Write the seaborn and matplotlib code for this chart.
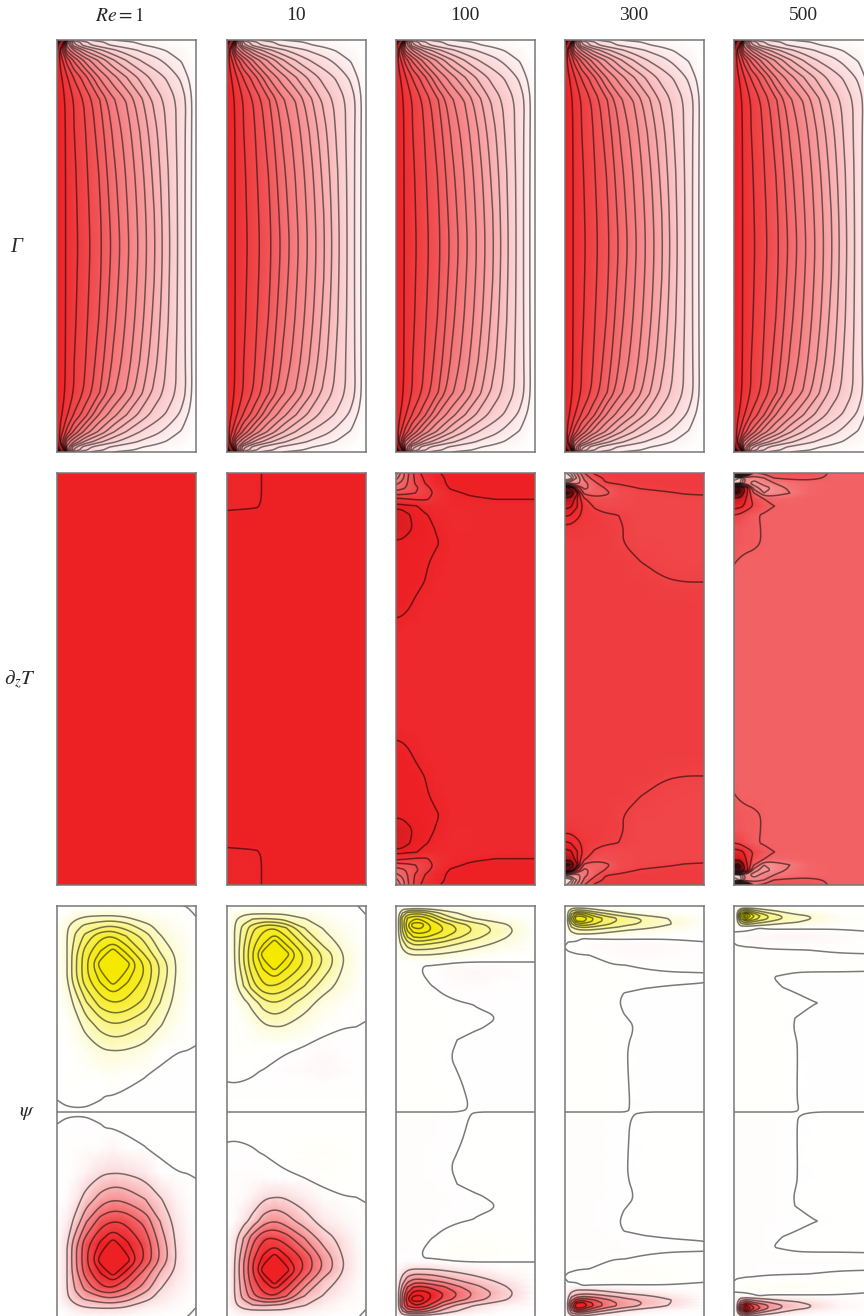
import numpy as np
import matplotlib
matplotlib.use('Agg')
import matplotlib.pyplot as plt
import seaborn as sns
from matplotlib.collections import LineCollection
from matplotlib.colors import LinearSegmentedColormap

# column headers and row labels
RE_LABELS = [r'$\mathit{Re}=1$', '10', '100', '300', '500']

# every field on a coarse grid, upper half only
# (x and d are in panel pixels from the left wall and the top wall)
GAMMA_X = [0, 4, 10, 17, 28, 42, 56, 70, 83, 97, 111, 125, 133, 139]
GAMMA_D = [0, 2, 5, 10, 20, 37, 60, 90, 132, 173, 206]
GAMMA = [
    [1.4, 1.35, .7, .208, .14, .093, .062, .047, .031, .023, .016, .008, .003, 0],
    [1.4, 1.2, .6, .312, .197, .14, .093, .07, .054, .039, .023, .011, .005, 0],
    [1.35, 1.0, .55, .335, .219, .152, .116, .085, .067, .047, .031, .016, .006, 0],
    [1.15, .85, .605, .495, .359, .264, .197, .15, .116, .085, .054, .028, .009, 0],
    [1, .903, .788, .673, .54, .424, .318, .242, .186, .147, .1, .054, .019, 0],
    [1, .947, .88, .806, .71, .558, .46, .371, .294, .225, .174, .108, .047, 0],
    [1, .968, .92, .872, .802, .696, .576, .491, .396, .299, .227, .156, .09, 0],
    [1, .969, .925, .876, .816, .724, .615, .527, .434, .335, .236, .152, .085, 0],
    [1, .969, .927, .886, .827, .748, .644, .552, .465, .359, .252, .152, .082, 0],
    [1, .969, .928, .891, .834, .762, .663, .567, .48, .377, .26, .152, .08, 0],
    [1, .969, .928, .894, .838, .766, .673, .576, .486, .383, .264, .152, .08, 0],
]
GAMMA_LEVELS = [.0625, .125, .1875, .25, .3125, .375, .4375, .5, .5625, .625, .6875, .75, .8125, .875, .9375]

DZT_X = [0, 6, 12, 20, 30, 40, 55, 75, 100, 120, 139]
DZT_D = [0, 5, 10, 15, 20, 26, 33, 42, 55, 70, 90, 110, 130, 160, 206]

DZT_RE1_X = [0, 139]
DZT_RE1_D = [0, 206]
DZT_RE1 = [[1, 1], [1, 1]]

DZT_RE10_X = [0, 30, 40, 139]
DZT_RE10_D = [0, 26, 33, 42, 206]
DZT_RE10 = [
    [.97, .97, 1, 1],
    [.97, .97, 1, 1],
    [.97, .98, 1, 1],
    [1, 1, 1, 1],
    [1, 1, 1, 1],
]
DZT_RE10_LEVELS = [.985]

DZT_RE100 = [
    [.45, .6, .72, .85, .95, .97, 1, 1, 1, 1, 1],
    [.55, .62, .73, .84, .92, .965, .99, 1, 1, 1, 1],
    [.63, .68, .74, .83, .905, .96, .99, 1, 1, 1, 1],
    [.7, .72, .75, .8, .87, .935, .985, 1, 1, 1, 1],
    [.78, .79, .8, .82, .86, .915, .965, .99, 1, 1, 1],
    [.92, .91, .9, .89, .89, .92, .955, .97, .981, .981, .981],
    [1, 1, .99, .985, .955, .95, .955, .96, .96, .96, .96],
    [1.03, 1.025, 1.015, 1, .985, .965, .955, .955, .96, .96, .96],
    [1.03, 1.025, 1.018, 1.005, .995, .978, .955, .955, .96, .96, .96],
    [1.005, 1.005, 1, 1, .995, .985, .965, .96, .96, .96, .96],
    [1, 1, 1, .995, .985, .97, .96, .96, .96, .96, .96],
    [1, 1, .995, .99, .978, .965, .96, .96, .96, .96, .96],
    [.995, .992, .987, .975, .965, .96, .96, .96, .96, .96, .96],
    [.965, .965, .96, .96, .96, .96, .96, .96, .96, .96, .96],
    [.96, .96, .96, .96, .96, .96, .96, .96, .96, .96, .96],
]
DZT_RE100_LEVELS = [.5, .58, .66, .74, .82, .9, .98, 1.01]

DZT_RE300 = [
    [.2, .35, .55, .75, .865, .875, .88, .88, .88, .88, .88],
    [.08, .2, .45, .68, .8, .86, .875, .88, .88, .88, .88],
    [.5, .5, .5, .62, .72, .845, .86, .875, .875, .88, .88],
    [1.2, 1.1, .85, .62, .7, .75, .82, .853, .87, .875, .88],
    [1.35, 1.3, 1.05, .72, .7, .72, .8, .83, .84, .855, .86],
    [1.1, 1.1, .98, .86, .79, .79, .81, .83, .83, .83, .83],
    [1.04, 1.03, .98, .9, .84, .82, .82, .83, .83, .83, .83],
    [.98, .97, .94, .9, .875, .86, .849, .83, .83, .83, .83],
    [.9, .9, .89, .88, .875, .87, .855, .83, .83, .83, .83],
    [.87, .87, .87, .87, .87, .87, .853, .835, .83, .83, .83],
    [.87, .87, .87, .87, .87, .87, .87, .852, .835, .83, .83],
    [.87, .87, .87, .87, .87, .87, .87, .87, .855, .851, .851],
    [.87, .87, .87, .87, .87, .87, .87, .87, .87, .87, .87],
    [.87, .87, .87, .87, .87, .87, .87, .87, .87, .87, .87],
    [.87, .87, .87, .87, .87, .87, .87, .87, .87, .87, .87],
]
DZT_RE300_LEVELS = [.25, .35, .45, .55, .65, .75, .85, .92, .97, 1.02, 1.15]

DZT_RE500 = [
    [.9, 1.2, 1.2, .7, .75, .78, .78, .78, .7, .7, .7],
    [.15, .2, .55, .55, .6, .72, .745, .74, .705, .7, .7],
    [.25, .3, .55, .45, .55, .6, .65, .69, .7, .7, .7],
    [1.25, 1.3, 1.05, .55, .45, .52, .62, .69, .7, .7, .7],
    [1.35, 1.3, 1, .72, .5, .52, .595, .69, .7, .7, .7],
    [1.05, 1.05, .95, .8, .72, .68, .69, .7, .7, .7, .7],
    [1, .98, .93, .84, .76, .721, .7, .7, .7, .7, .7],
    [.85, .83, .78, .73, .71, .7, .7, .7, .7, .7, .7],
    [.76, .75, .74, .73, .715, .7, .7, .7, .7, .7, .7],
    [.75, .745, .74, .73, .715, .7, .7, .7, .7, .7, .7],
    [.722, .71, .7, .7, .7, .7, .7, .7, .7, .7, .7],
    [.7, .7, .7, .7, .7, .7, .7, .7, .7, .7, .7],
    [.7, .7, .7, .7, .7, .7, .7, .7, .7, .7, .7],
    [.7, .7, .7, .7, .7, .7, .7, .7, .7, .7, .7],
    [.7, .7, .7, .7, .7, .7, .7, .7, .7, .7, .7],
]
DZT_RE500_LEVELS = [.2, .3, .4, .5, .6, .72, .85, .95, 1.1]

PSI_LEVELS = [-1.051, -.901, -.751, -.601, -.451, -.301, -.151, 0,
              .151, .301, .451, .601, .751, .901, 1.051]

PSI_RE1_X = [0, 10, 19, 29, 44, 56, 69, 88, 103, 119, 130, 139]
PSI_RE1_D = [0, 10, 20, 30, 46, 58, 74, 97, 118, 145, 170, 190, 198, 203, 206]
PSI_RE1 = [
    [.001, .001, .001, .001, .001, .001, .001, .001, .001, .001, -.0005, -.01],
    [.001, .04, .1, .14, .155, .155, .13, .06, .03, .015, .006, -.0002],
    [.002, .13, .25, .34, .42, .45, .38, .2, .1, .04, .015, .002],
    [.003, .15, .33, .5, .72, .75, .6, .38, .16, .07, .03, .003],
    [.003, .15, .42, .68, .92, 1.14, .88, .55, .3, .12, .05, .003],
    [.003, .15, .44, .72, 1.14, 1.25, 1.14, .73, .44, .15, .05, .003],
    [.003, .15, .43, .7, .94, 1.14, .94, .72, .42, .14, .05, .002],
    [.003, .07, .2, .43, .68, .75, .72, .55, .3, .1, .03, .002],
    [.002, .02, .09, .22, .38, .45, .42, .31, .17, .05, .015, .002],
    [.002, .005, .015, .05, .13, .15, .14, .09, .003, .0005, -.0002, -.0005],
    [.002, .004, .008, .01, .012, .03, .004, .0002, -.002, -.004, -.004, -.003],
    [.0003, .002, .003, .002, .0005, -.001, -.002, -.002, -.002, -.003, -.003, -.003],
    [-.0003, .0002, .0008, .0004, -.0005, -.001, -.001, -.001, -.001, -.001, -.001, -.001],
    [-.0003, -.0003, -.0003, -.0003, -.0003, -.0003, -.0003, -.0003, -.0003, -.0003, -.0003, -.0003],
    [0, 0, 0, 0, 0, 0, 0, 0, 0, 0, 0, 0],
]

PSI_RE10_X = [0, 8, 17, 26, 37, 48, 59, 78, 97, 117, 130, 139]
PSI_RE10_D = [0, 8, 13, 22, 37, 48, 60, 80, 97, 121, 140, 165, 180, 206]
PSI_RE10 = [
    [.001, .001, .001, .001, .001, .001, .001, .001, .001, .001, .0002, -.001],
    [.001, .07, .13, .15, .155, .15, .14, .08, .04, .012, .005, -.0001],
    [.002, .13, .22, .3, .32, .3, .26, .16, .07, .02, .01, .001],
    [.003, .15, .36, .55, .72, .75, .62, .3, .14, .05, .02, .002],
    [.003, .15, .42, .7, .88, 1.14, .88, .55, .25, .1, .03, .003],
    [.003, .15, .45, .75, 1.14, 1.25, 1.14, .72, .42, .15, .05, .003],
    [.003, .14, .43, .72, .94, 1.14, .94, .72, .42, .15, .05, .003],
    [.002, .1, .3, .53, .74, .75, .68, .45, .22, .1, .03, .002],
    [.002, .02, .1, .2, .38, .45, .38, .22, .09, .03, .012, .001],
    [.001, .008, .02, .05, .12, .15, .14, .07, .012, .0005, -.0001, -.0003],
    [.001, .008, .012, .012, .008, .005, .006, .0001, -.012, -.006, -.003, -.001],
    [.0005, .002, .002, .001, -.0005, -.003, -.012, -.018, -.03, -.015, -.005, -.002],
    [-.0002, -.0005, -.001, -.0015, -.002, -.003, -.004, -.005, -.005, -.004, -.002, -.001],
    [0, 0, 0, 0, 0, 0, 0, 0, 0, 0, 0, 0],
]

PSI_X = [0, 3, 7, 12, 18, 25, 35, 48, 62, 80, 105, 139]

PSI_RE100_D = [0, 3, 7, 12, 19, 25, 31, 38, 44, 49, 55, 60, 67, 81, 99, 111, 122, 134, 151, 181, 203, 206]
PSI_RE100 = [
    [.0005, .0005, .0005, .0005, .0005, .0005, .0005, .0005, .0005, .0005, .0005, .0005],
    [.001, .05, .13, .15, .17, .17, .14, .09, .05, .02, .005, .0005],
    [.001, .1, .3, .5, .55, .55, .42, .25, .15, .08, .02, .001],
    [.001, .15, .5, .75, .85, .85, .7, .42, .25, .13, .05, .001],
    [.001, .15, .5, .9, 1.15, 1.15, .9, .72, .55, .38, .2, .002],
    [.001, .15, .45, .75, .95, 1.0, .9, .75, .6, .42, .24, .002],
    [.001, .12, .35, .6, .75, .78, .72, .62, .48, .34, .19, .002],
    [.001, .09, .22, .38, .47, .48, .44, .38, .3, .22, .11, .002],
    [.001, .06, .13, .24, .29, .29, .28, .23, .18, .12, .05, .002],
    [.001, .03, .07, .12, .15, .15, .145, .12, .09, .055, .02, .001],
    [.001, .008, .015, .03, .035, .035, .03, .015, .008, .005, .003, .0005],
    [.004, .004, .004, .004, .003, .0008, -.002, -.008, -.015, -.02, -.012, -.002],
    [.01, .01, .01, .01, .006, .0008, -.005, -.012, -.022, -.03, -.02, -.003],
    [.01, .01, .01, .01, .01, .008, .001, -.003, -.01, -.012, -.006, -.001],
    [.01, .01, .01, .01, .01, .01, .008, .004, .003, -.0002, -.002, -.001],
    [.01, .01, .01, .01, .01, .01, .01, .008, .005, .001, -.0001, -.001],
    [.01, .01, .01, .01, .01, .01, .01, .008, .004, .0003, -.0007, -.001],
    [.01, .01, .01, .01, .01, .01, .008, .003, -.0001, -.001, -.001, -.001],
    [.01, .01, .01, .01, .01, .008, .005, .001, -.001, -.001, -.001, -.001],
    [.01, .01, .01, .01, .01, .01, .008, .006, .001, -.002, -.002, -.002],
    [.01, .01, .01, .01, .01, .01, .008, .006, .002, -.001, -.002, -.002],
    [0, 0, 0, 0, 0, 0, 0, 0, 0, 0, 0, 0],
]

PSI_RE300_D = [0, 2, 5, 8, 12, 15, 18, 21, 24, 28, 32, 36, 41, 49, 59, 67, 77, 82, 87, 96, 107, 121, 141, 167, 203, 206]
PSI_RE300 = [
    [.0005, .0005, .0005, .0005, .0005, .0005, .0005, .0005, .0005, .0005, .0005, .0005],
    [.001, .04, .12, .15, .14, .11, .07, .04, .015, .005, .001, .0005],
    [.001, .1, .3, .4, .38, .3, .2, .13, .07, .03, .008, .0005],
    [.001, .13, .45, .75, .7, .55, .4, .27, .17, .09, .03, .001],
    [.001, .15, .6, 1.05, 1.05, .82, .63, .48, .37, .26, .14, .001],
    [.001, .15, .55, .9, .95, .8, .63, .48, .38, .29, .155, .001],
    [.001, .12, .42, .65, .72, .66, .55, .43, .34, .27, .16, .001],
    [.001, .1, .3, .42, .48, .46, .4, .33, .26, .2, .11, .001],
    [.001, .08, .2, .27, .3, .3, .26, .2, .16, .12, .06, .001],
    [.001, .04, .1, .15, .15, .15, .13, .1, .07, .04, .015, .0005],
    [.003, .01, .015, .01, .0005, .002, .003, .005, .006, .005, .004, .002],
    [.0005, .0003, -.001, -.002, -.004, -.006, -.008, -.01, -.012, -.012, -.008, -.0002],
    [-.0001, -.002, -.003, -.006, -.01, -.012, -.015, -.02, -.025, -.025, -.015, -.004],
    [.002, .002, .0015, .001, .0005, -.0002, -.006, -.012, -.018, -.02, -.012, -.004],
    [.012, .012, .012, .012, .012, .012, .008, .001, -.0003, -.005, -.006, -.003],
    [.012, .012, .012, .012, .012, .012, .012, .01, .008, .005, .001, .0001],
    [.012, .012, .012, .012, .012, .012, .012, .01, .006, .003, .001, -.00001],
    [.012, .012, .012, .012, .012, .012, .012, .006, .002, .0002, -.001, -.002],
    [.012, .012, .012, .012, .012, .012, .008, .001, -.0003, -.002, -.002, -.002],
    [.012, .012, .012, .012, .012, .01, .004, .0005, -.0005, -.002, -.002, -.002],
    [.012, .012, .012, .012, .012, .01, .004, .001, -.0003, -.002, -.002, -.002],
    [.012, .012, .012, .012, .012, .012, .008, .003, .0008, -.001, -.002, -.002],
    [.012, .012, .012, .012, .012, .012, .008, .002, .0001, -.002, -.002, -.002],
    [.012, .012, .012, .012, .012, .012, .008, .001, .0002, -.002, -.002, -.002],
    [.012, .012, .012, .012, .012, .012, .008, .002, .0005, -.002, -.002, -.002],
    [0, 0, 0, 0, 0, 0, 0, 0, 0, 0, 0, 0],
]

PSI_RE500_D = [0, 2, 5, 8, 10, 13, 16, 19, 22, 26, 31, 37, 44, 48, 56, 65, 71, 82, 97, 112, 122, 141, 194, 203, 206]
PSI_RE500 = [
    [.0005, .0005, .0005, .0005, .0005, .0005, .0005, .0005, .0005, .0005, .0005, .0005],
    [.001, .05, .13, .15, .13, .09, .05, .025, .012, .006, .003, .001],
    [.001, .1, .4, .55, .42, .3, .2, .12, .07, .03, .008, .001],
    [.001, .14, .65, 1.0, .72, .52, .35, .22, .14, .08, .02, .001],
    [.001, .15, .72, 1.2, .82, .62, .44, .3, .21, .13, .03, .001],
    [.001, .14, .6, .92, .72, .57, .43, .3, .22, .14, .03, .001],
    [.001, .11, .38, .55, .45, .36, .28, .21, .16, .1, .025, .001],
    [.001, .07, .2, .25, .22, .18, .14, .1, .08, .05, .015, .001],
    [.02, .03, .03, .02, .008, .0003, .005, .008, .008, .006, .004, .002],
    [-.0001, -.002, -.004, -.006, -.008, -.01, -.012, -.018, -.02, -.015, -.008, -.0002],
    [-.006, -.012, -.02, -.025, -.03, -.035, -.035, -.04, -.04, -.035, -.02, -.006],
    [-.0001, -.003, -.006, -.01, -.012, -.015, -.02, -.02, -.02, -.018, -.012, -.006],
    [.004, .006, .008, .008, .008, .006, .004, .002, .0008, -.0005, -.006, -.006],
    [.01, .01, .01, .01, .008, .006, .005, .004, .004, .003, .002, .0001],
    [.012, .012, .012, .012, .012, .012, .012, .012, .012, .012, .012, .01],
    [.012, .012, .012, .012, .012, .012, .01, .004, .001, .0005, .0005, .0001],
    [.012, .012, .012, .012, .012, .008, .0008, -.002, -.003, -.003, -.003, -.003],
    [.012, .012, .012, .012, .012, .012, .005, .0002, -.001, -.002, -.002, -.002],
    [.012, .012, .012, .012, .012, .012, .01, .005, .002, .0002, -.001, -.002],
    [.012, .012, .012, .012, .012, .012, .008, .001, -.0001, -.002, -.002, -.002],
    [.012, .012, .012, .012, .012, .012, .008, .001, -.0002, -.002, -.002, -.002],
    [.012, .012, .012, .012, .012, .012, .008, .002, .0002, -.002, -.002, -.002],
    [.012, .012, .012, .012, .012, .012, .008, .002, .0001, -.002, -.002, -.002],
    [.012, .012, .012, .012, .012, .012, .008, .002, .0004, -.002, -.002, -.002],
    [0, 0, 0, 0, 0, 0, 0, 0, 0, 0, 0, 0],
]

FIG_W, FIG_H = 864, 1316
PANEL_W, PANEL_H = 139, 412
PANEL_LEFT = [57, 226.5, 395.5, 564.5, 734]
PANEL_TOP = [40, 473, 906]

RED = '#ed2024'
YELLOW = '#f5e900'
FRAME = '#777777'


def round_corners(seg, passes=3):
    """Corner cutting, so contours of a coarse grid do not look polygonal."""
    closed = len(seg) > 2 and np.allclose(seg[0], seg[-1])
    for _ in range(passes):
        if len(seg) < 3:
            break
        cut = np.empty((2 * (len(seg) - 1), 2))
        cut[0::2] = 0.75 * seg[:-1] + 0.25 * seg[1:]
        cut[1::2] = 0.25 * seg[:-1] + 0.75 * seg[1:]
        if closed:
            seg = np.vstack([cut, cut[0]])
        else:
            seg = np.vstack([seg[0], cut, seg[-1]])
    return seg


def draw_panel(ax, xs, ds, half, sign, cmap, vmin, vmax, levels):
    """Mirrors the upper half of a field, then draws it as heatmap, smooth shading and contours."""
    half = np.array(half, dtype=float)
    xs = np.array(xs, dtype=float)
    ds = np.array(ds, dtype=float)
    field = np.vstack([half, sign * half[-2::-1]])
    rows = np.concatenate([ds, PANEL_H - ds[-2::-1]])

    sns.heatmap(field, ax=ax, cmap=cmap, vmin=vmin, vmax=vmax, cbar=False,
                xticklabels=False, yticklabels=False)
    n_rows, n_cols = field.shape
    X = xs / PANEL_W * n_cols
    Y = rows / PANEL_H * n_rows
    # heatmap cells are blocky, the field in the figure is smooth
    ax.pcolormesh(X, Y, field, shading='gouraud', cmap=cmap, vmin=vmin, vmax=vmax)
    if levels:
        cs = ax.contour(X, Y, field, levels=levels, colors='black')
        segs = [round_corners(s) for level in cs.allsegs for s in level if len(s) > 1]
        cs.remove()
        ax.add_collection(LineCollection(segs, colors='black', alpha=0.52, linewidths=1.1))
    ax.set_xlim(0, n_cols)
    ax.set_ylim(n_rows, 0)
    for spine in ax.spines.values():
        spine.set_visible(True)
        spine.set_color(FRAME)
        spine.set_linewidth(1.1)


sns.set_style('white')
plt.rcParams['font.family'] = ['Liberation Serif', 'DejaVu Serif']
plt.rcParams['mathtext.fontset'] = 'stix'

red_cmap = LinearSegmentedColormap.from_list('white_red_black', [(0, 'white'), (1 / 1.4, RED), (1, 'black')])
psi_cmap = sns.blend_palette([RED, 'white', YELLOW], n_colors=256, as_cmap=True)

dzt_panels = [
    (DZT_RE1_X, DZT_RE1_D, DZT_RE1, []),
    (DZT_RE10_X, DZT_RE10_D, DZT_RE10, DZT_RE10_LEVELS),
    (DZT_X, DZT_D, DZT_RE100, DZT_RE100_LEVELS),
    (DZT_X, DZT_D, DZT_RE300, DZT_RE300_LEVELS),
    (DZT_X, DZT_D, DZT_RE500, DZT_RE500_LEVELS),
]
psi_panels = [
    (PSI_RE1_X, PSI_RE1_D, PSI_RE1),
    (PSI_RE10_X, PSI_RE10_D, PSI_RE10),
    (PSI_X, PSI_RE100_D, PSI_RE100),
    (PSI_X, PSI_RE300_D, PSI_RE300),
    (PSI_X, PSI_RE500_D, PSI_RE500),
]

fig = plt.figure(figsize=(FIG_W / 100, FIG_H / 100), dpi=100)


def panel_axes(left, top):
    return fig.add_axes([left / FIG_W, 1 - (top + PANEL_H) / FIG_H, PANEL_W / FIG_W, PANEL_H / FIG_H])


for col, left in enumerate(PANEL_LEFT):
    draw_panel(panel_axes(left, PANEL_TOP[0]), GAMMA_X, GAMMA_D, GAMMA, 1,
               red_cmap, 0, 1.4, GAMMA_LEVELS)
    xs, ds, values, levels = dzt_panels[col]
    draw_panel(panel_axes(left, PANEL_TOP[1]), xs, ds, values, 1,
               red_cmap, 0, 1.4, levels)
    xs, ds, values = psi_panels[col]
    draw_panel(panel_axes(left, PANEL_TOP[2]), xs, ds, values, -1,
               psi_cmap, -0.9, 0.9, PSI_LEVELS)

for label, x in zip(RE_LABELS, [120, 296, 465, 634, 803]):
    fig.text(x / FIG_W, 1 - 16 / FIG_H, label, ha='center', va='center', fontsize=14)
fig.text(16 / FIG_W, 1 - 247 / FIG_H, 'Γ', style='italic', ha='center', va='center', fontsize=15)
fig.text(20 / FIG_W, 1 - 680 / FIG_H, r'$\partial_z T$', ha='center', va='center', fontsize=15)
fig.text(27 / FIG_W, 1 - 1113 / FIG_H, r'$\psi$', ha='center', va='center', fontsize=15)

fig.savefig('out.png', dpi=100)
